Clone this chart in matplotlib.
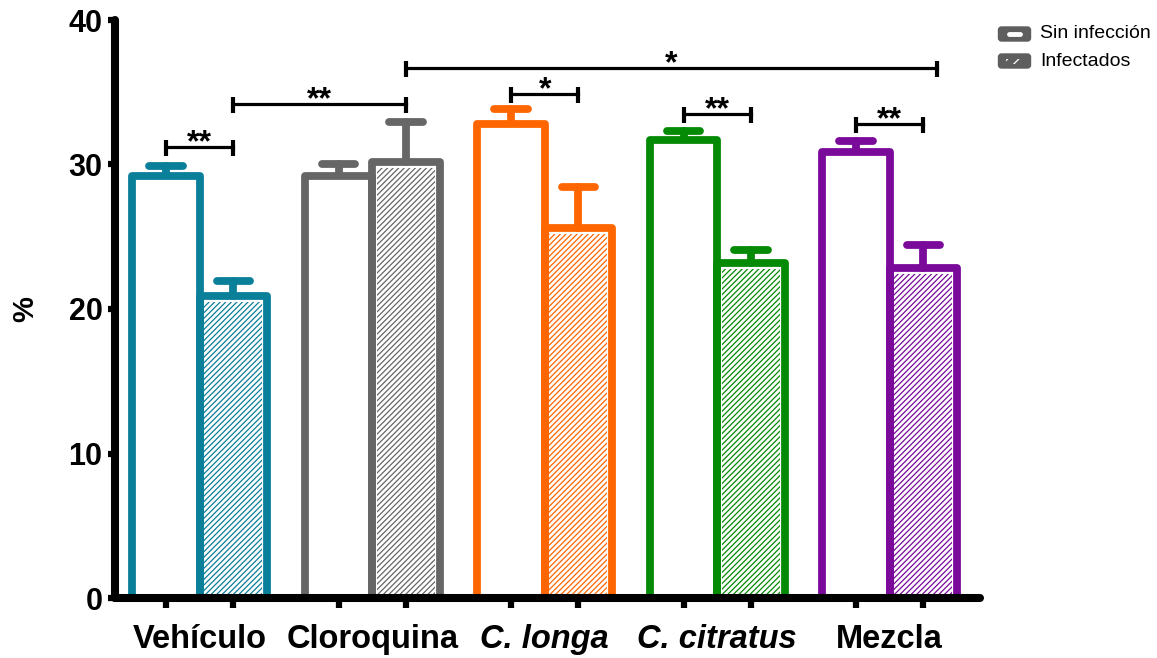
import matplotlib
matplotlib.use("Agg")
import matplotlib.pyplot as plt
import numpy as np
from matplotlib.patches import FancyBboxPatch, Rectangle

plt.rcParams['font.family'] = ['Liberation Sans', 'DejaVu Sans']
plt.rcParams['hatch.linewidth'] = 0.9

# ---- data ----
groups = ['Vehículo', 'Cloroquina', 'C. longa', 'C. citratus', 'Mezcla']
italic = [False, False, True, True, False]
colors = ['#0A7F99', '#666666', '#FF6600', '#058A05', '#7A0A9A']
sin_mean = [29.2, 29.2, 32.8, 31.7, 30.85]
sin_err = [0.7, 0.8, 1.05, 0.65, 0.8]
inf_mean = [20.9, 30.15, 25.6, 23.2, 22.85]
inf_err = [1.05, 2.8, 2.85, 0.85, 1.6]
series_labels = ['Sin infección', 'Infectados']
yticks = [0, 10, 20, 30, 40]
ylabel = '%'
# significance brackets: (group_a, series_a, group_b, series_b, y, text)
brackets = [
    (0, 0, 0, 1, 31.2, '**'),
    (0, 1, 1, 1, 34.2, '**'),
    (1, 1, 4, 1.2, 36.7, '*'),
    (2, 0, 2, 1, 34.9, '*'),
    (3, 0, 3, 1, 33.5, '**'),
    (4, 0, 4, 1, 32.8, '**'),
]

# ---- layout ----
W, H = 1157, 658
fig = plt.figure(figsize=(W / 100, H / 100), dpi=100)
ax = fig.add_axes([115 / W, 60 / H, (980 - 115) / W, (598 - 20) / H])

gstep = 2.56
pos_sin = np.arange(len(groups)) * gstep
pos_inf = pos_sin + 1.0
centers = (pos_sin + pos_inf) / 2
lw = 5.6
bw = 1.0

def xpos(g, s):
    return pos_sin[g] + s

for i in range(len(groups)):
    c = colors[i]
    # error bars (up only)
    for x, m, e in ((pos_sin[i], sin_mean[i], sin_err[i]), (pos_inf[i], inf_mean[i], inf_err[i])):
        v = ax.vlines([x], [m], [m + e], colors=c, linewidth=lw, zorder=2)
        h = ax.hlines([m + e], [x - 0.25], [x + 0.25], colors=c, linewidth=lw, zorder=2)
        v.set_capstyle('round'); h.set_capstyle('round')
    # sin bar: white with outline
    ax.bar(pos_sin[i], sin_mean[i], width=bw, facecolor='white', edgecolor=c,
           linewidth=lw, zorder=3, joinstyle='round')
    # inf bar: hatch inset + outline
    ax.bar(pos_inf[i], inf_mean[i] - 0.40, width=0.86, facecolor='white', edgecolor=c,
           linewidth=0, hatch='//////', zorder=3)
    ax.bar(pos_inf[i], inf_mean[i], width=bw, facecolor='none', edgecolor=c,
           linewidth=lw, zorder=4, joinstyle='round')

# brackets
for ga, sa, gb, sb, y, txt in brackets:
    xa, xb = xpos(ga, sa), xpos(gb, sb)
    ax.plot([xa, xb], [y, y], color='black', linewidth=2.3, zorder=5)
    ax.plot([xa, xb], [y - 0.08, y - 0.08], linestyle='none', marker='|',
            markersize=11, markeredgewidth=3.0, color='black', zorder=5)
    ax.text((xa + xb) / 2, y - 0.3, txt, ha='center', va='baseline',
            fontsize=23, fontweight='bold', zorder=5)

ax.set_ylim(0, 40)
ax.set_xlim(-0.757, 12.08)
ax.set_yticks(yticks)
ax.set_yticklabels([str(t) for t in yticks], fontsize=22, fontweight='bold')
ax.tick_params(axis='y', length=5, width=4.5, pad=4, direction='out')

ax.set_xticks(np.concatenate([pos_sin, pos_inf]))
ax.set_xticklabels([])
ax.tick_params(axis='x', which='major', length=7, width=4.5, direction='out')
ax.set_xticks(centers, minor=True)
ax.set_xticklabels(groups, minor=True, fontsize=23.5, fontweight='bold')
for lab, it in zip(ax.get_xticklabels(minor=True), italic):
    if it:
        lab.set_fontstyle('italic')
ax.tick_params(axis='x', which='minor', length=0, pad=19)

for s in ['top', 'right']:
    ax.spines[s].set_visible(False)
for s in ['left', 'bottom']:
    ax.spines[s].set_linewidth(5.8)
    ax.spines[s].set_capstyle('round')
    ax.spines[s].set_zorder(6)

ax.set_ylabel(ylabel, fontsize=21, fontweight='bold')
ax.yaxis.set_label_coords((39 - 115) / 865, 0.5)

# legend (custom, figure-level overlay)
lax = fig.add_axes([0, 0, 1, 1], zorder=10)
lax.set_xlim(0, W); lax.set_ylim(H, 0); lax.axis('off')
for k, (lab, yc) in enumerate(zip(series_labels, [34, 61])):
    box = FancyBboxPatch((998.5, yc - 7), 32, 14, boxstyle='round,pad=0,rounding_size=3',
                         facecolor='#5E5E5E', edgecolor='#5E5E5E', linewidth=1)
    lax.add_patch(box)
    if k == 0:
        lax.plot([1009, 1020], [yc, yc], color='white', linewidth=3.5, solid_capstyle='round')
    else:
        lax.add_patch(Rectangle((1006, yc - 2.5), 18, 5, facecolor='#5E5E5E',
                                edgecolor='white', linewidth=0, hatch='///'))
    lax.text(1040, yc, lab, fontsize=14, va='center', ha='left', color='black')

fig.savefig('out.png', dpi=100)
